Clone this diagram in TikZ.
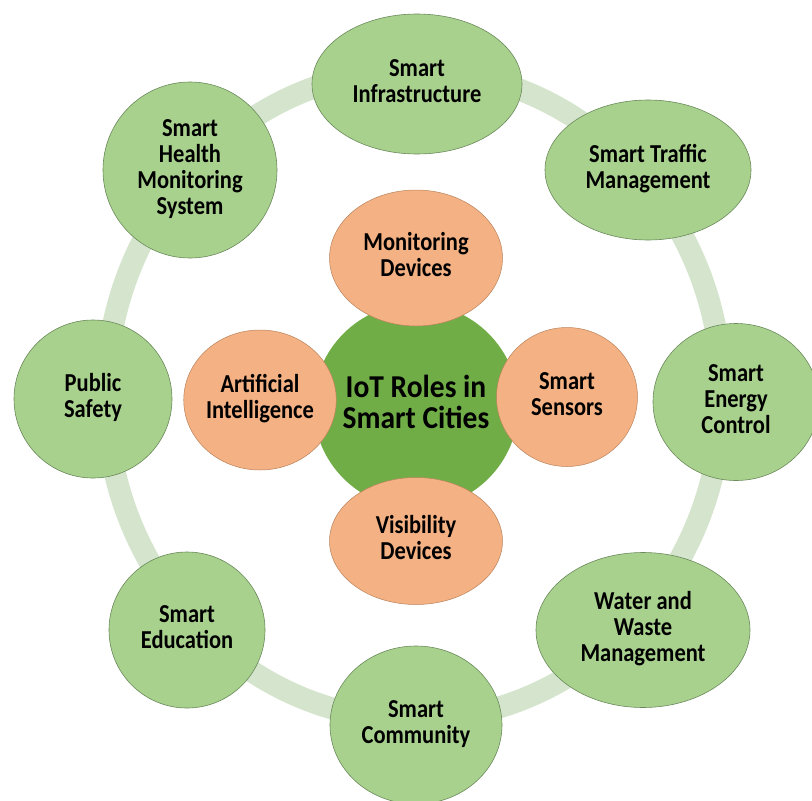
\documentclass[tikz,border=0pt]{standalone}
\usepackage{fontspec}
\setmainfont{Carlito}
\usetikzlibrary{shapes.geometric}
\definecolor{ringcol}{HTML}{D5E5CD}
\definecolor{outerfill}{HTML}{A9D18E}
\definecolor{outerdraw}{HTML}{6A8A5A}
\definecolor{orangefill}{HTML}{F4B183}
\definecolor{orangedraw}{HTML}{B9835C}
\definecolor{centerfill}{HTML}{70AD47}
\newcommand{\lbl}[2][1.15]{\scalebox{1}[#1]{\begin{tabular}{@{}c@{}}#2\end{tabular}}}
\tikzset{
  outerbub/.style={ellipse, draw=outerdraw, line width=0.6pt, fill=outerfill, inner sep=0pt,
    font=\fontsize{22.5}{22.6}\selectfont\bfseries, text=black},
  innerbub/.style={ellipse, draw=orangedraw, line width=0.5pt, fill=orangefill, inner sep=0pt,
    font=\fontsize{22.5}{22.6}\selectfont\bfseries, text=black},
  hubbub/.style={circle, fill=centerfill, inner sep=0pt,
    font=\fontsize{29.5}{26.5}\selectfont\bfseries, text=black},
}
\begin{document}
\begin{tikzpicture}[x=1pt,y=-1pt]
\useasboundingbox (0,0) rectangle (812,801);
\fill[white] (0,0) rectangle (812,801);
% ring
\draw[ringcol, line width=22pt] (414,395) ellipse [x radius=308, y radius=325];
% outer bubbles
\node[outerbub, minimum width=210, minimum height=140] (infra) at (417,84) {\lbl{Smart\\Infrastructure}};
\node[outerbub, minimum width=206, minimum height=140] (traffic) at (648,170) {\lbl{Smart Traffic\\Management}};
\node[outerbub, minimum width=166, minimum height=157] (energy) at (736,402) {\lbl{Smart\\Energy\\Control}};
\node[outerbub, minimum width=214, minimum height=155] (water) at (643,630) {\lbl{Water and\\Waste\\Management}};
\node[outerbub, minimum width=172, minimum height=158] (community) at (416,725) {\lbl{Smart\\Community}};
\node[outerbub, minimum width=156, minimum height=156] (education) at (187,630) {\lbl{Smart\\Education}};
\node[outerbub, minimum width=158, minimum height=158] (safety) at (93,399) {\lbl{Public\\Safety}};
\node[outerbub, minimum width=174, minimum height=176] (health) at (190,170) {\lbl{Smart\\Health\\Monitoring\\System}};
% hub
\node[hubbub, minimum size=205] (hub) at (416,406) {\lbl[1.08]{IoT Roles in\\Smart Cities}};
% inner bubbles
\node[innerbub, minimum width=173, minimum height=136] (monitor) at (416,258) {\lbl{Monitoring\\Devices}};
\node[innerbub, minimum width=140, minimum height=140] (ai) at (260,400) {\lbl{Artificial\\Intelligence}};
\node[innerbub, minimum width=141, minimum height=139] (sensors) at (567,397) {\lbl{Smart\\Sensors}};
\node[innerbub, minimum width=173, minimum height=127] (visibility) at (416,541) {\lbl{Visibility\\Devices}};
\end{tikzpicture}
\end{document}
